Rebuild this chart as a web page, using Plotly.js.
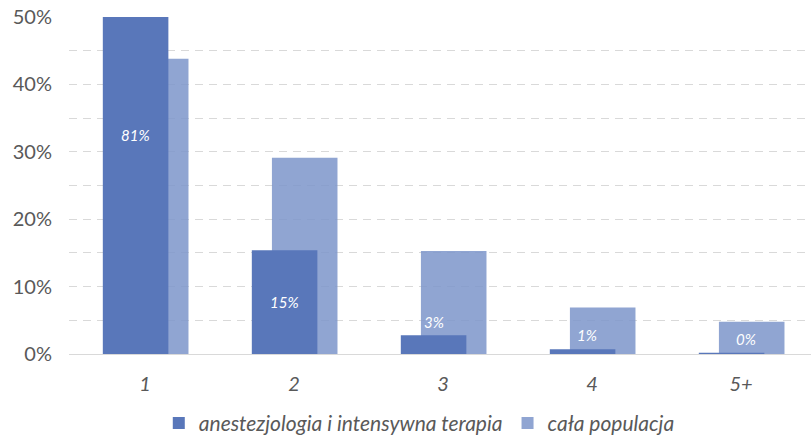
<!DOCTYPE html>
<html>
<head>
<meta charset="utf-8">
<script src="https://cdn.plot.ly/plotly-3.0.1.min.js"></script>
<style>html,body{margin:0;padding:0;background:#fff;}#chart{width:811px;height:436px;}</style>
</head>
<body>
<div id="chart"></div>
<script>
const categories = ["1", "2", "3", "4", "5+"];
const seriesNames = ["anestezjologia i intensywna terapia", "cała populacja"];
const anestValues = [81, 15.4, 2.8, 0.7, 0.2];
const populacjaValues = [43.8, 29.1, 15.3, 6.9, 4.8];
const anestLabels = ["81%", "15%", "3%", "1%", "0%"];
const labelHeights = [32.5, 7.7, 4.75, 2.8, 2.2];
const labelShiftPx = [0, 0, 0, 4, 14];

const BAR_W = 0.44;
const DARK_OFF = -0.283;
const LIGHT_OFF = -0.148;
const DARK = "rgb(89,119,186)";
const LIGHT = "rgba(124,149,202,0.85)";
const idx = categories.map((c, i) => i);

const traces = [
  {
    type: "bar", x: idx, y: populacjaValues, name: seriesNames[1],
    width: BAR_W, offset: LIGHT_OFF,
    marker: {color: LIGHT, line: {width: 0}},
    hoverinfo: "skip", legendrank: 2
  },
  {
    type: "bar", x: idx, y: anestValues, name: seriesNames[0],
    width: BAR_W, offset: DARK_OFF,
    marker: {color: DARK, line: {width: 0}},
    hoverinfo: "skip", legendrank: 1
  }
];

const annotations = anestLabels.map((t, i) => ({
  x: i + DARK_OFF + BAR_W / 2, y: labelHeights[i], xref: "x", yref: "y",
  text: t, showarrow: false, xshift: labelShiftPx[i],
  font: {family: "Lato, 'Open Sans', sans-serif", size: 15, color: "#ffffff", style: "italic"}
}));

const layout = {
  width: 811, height: 436,
  margin: {l: 69, r: 0, t: 17, b: 82},
  paper_bgcolor: "#fff", plot_bgcolor: "#fff",
  barmode: "overlay",
  showlegend: true,
  font: {family: "Lato, 'Open Sans', sans-serif", color: "#595959"},
  xaxis: {
    type: "linear", range: [-0.51, 4.47],
    tickmode: "array", tickvals: idx, ticktext: categories,
    showgrid: false, zeroline: false,
    showline: true, linecolor: "#d9d9d9", linewidth: 1,
    ticks: "", ticklabelstandoff: 12,
    tickfont: {size: 20, color: "#595959", style: "italic"},
    fixedrange: true
  },
  yaxis: {
    range: [0, 50], dtick: 10, tick0: 0,
    ticksuffix: "%",
    showgrid: true, gridcolor: "#d9d9d9", gridwidth: 1, griddash: "8px,6px",
    minor: {dtick: 5, showgrid: true, gridcolor: "#d9d9d9", gridwidth: 1, griddash: "8px,6px"},
    zeroline: false, showline: false, ticks: "",
    ticklabelstandoff: 16,
    tickfont: {size: 20, color: "#595959"},
    fixedrange: true
  },
  legend: {
    orientation: "h", xref: "container", x: 0.517, xanchor: "center",
    yref: "container", y: 0.029, yanchor: "middle",
    font: {size: 21, color: "#595959", style: "italic"},
    itemwidth: 30, traceorder: "normal"
  },
  annotations: annotations
};

Plotly.newPlot("chart", traces, layout, {displayModeBar: false, staticPlot: true});
</script>
</body>
</html>
